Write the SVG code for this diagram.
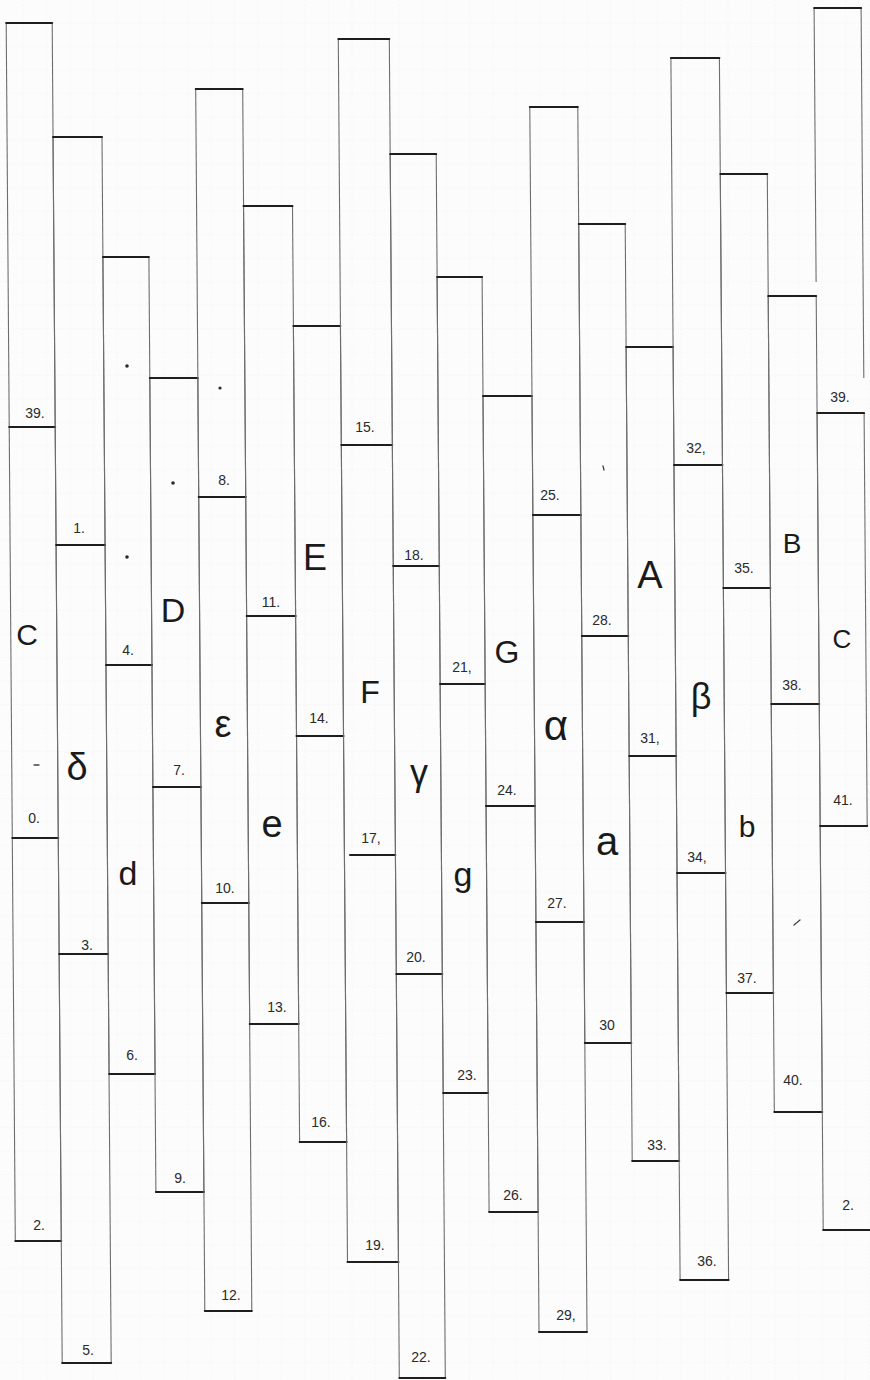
<svg xmlns="http://www.w3.org/2000/svg" width="870" height="1380" viewBox="0 0 870 1380">
<defs>
<pattern id="grid" width="23.5" height="23.5" patternUnits="userSpaceOnUse">
<path d="M23.5 0V23.5M0 23.5H23.5" fill="none" stroke="#ececec" stroke-width="0.7" stroke-dasharray="2 2"/>
</pattern>
<style>
.v{stroke:#6e6e6e;stroke-width:1.1;fill:none}
.h{stroke:#1e1e1e;stroke-width:2;stroke-linecap:round}
.n{font-family:"Liberation Sans",Arial,sans-serif;font-size:14px;fill:#2a2a2a;text-anchor:middle}
.L{font-family:"Liberation Sans",Arial,sans-serif;fill:#1a1a1a;text-anchor:middle}
.dot{fill:#2a2a2a}
.mk{stroke:#444;stroke-width:1.3;stroke-linecap:round}
</style>
</defs>
<rect width="870" height="1380" fill="#fcfcfc"/>
<rect width="870" height="1380" fill="url(#grid)"/>

<g id="connectors"></g>

<g id="col-0">
<line class="v" x1="6.2" y1="23" x2="15.3" y2="1241"/>
<line class="v" x1="52.2" y1="23" x2="61.3" y2="1241"/>
<line class="h" x1="6.2" y1="23" x2="52.2" y2="23"/>
<line class="h" x1="9.2" y1="427" x2="55.2" y2="427"/>
<line class="h" x1="12.3" y1="838" x2="58.3" y2="838"/>
<line class="h" x1="15.3" y1="1241" x2="61.3" y2="1241"/>
<text class="n" x="35" y="418">39.</text>
<text class="L" x="27" y="645" font-size="30">C</text>
<line class="mk" x1="34" y1="765" x2="39" y2="765"/>
<text class="n" x="34" y="823">0.</text>
<text class="n" x="39" y="1230">2.</text>
</g>

<g id="col-1">
<line class="v" x1="53" y1="137" x2="62.2" y2="1363"/>
<line class="v" x1="102" y1="137" x2="111.2" y2="1363"/>
<line class="h" x1="53" y1="137" x2="102" y2="137"/>
<line class="h" x1="56.1" y1="545" x2="105.1" y2="545"/>
<line class="h" x1="59.2" y1="954" x2="108.2" y2="954"/>
<line class="h" x1="62.2" y1="1363" x2="111.2" y2="1363"/>
<text class="n" x="79" y="533">1.</text>
<text class="L" x="77" y="780" font-size="38">δ</text>
<text class="n" x="87" y="950">3.</text>
<text class="n" x="88" y="1355">5.</text>
</g>

<g id="col-2">
<line class="v" x1="102.9" y1="257" x2="109.1" y2="1074"/>
<line class="v" x1="148.9" y1="257" x2="155.1" y2="1074"/>
<line class="h" x1="102.9" y1="257" x2="148.9" y2="257"/>
<line class="h" x1="106" y1="665" x2="152" y2="665"/>
<line class="h" x1="109.1" y1="1074" x2="155.1" y2="1074"/>
<circle class="dot" cx="127" cy="366" r="1.8"/>
<circle class="dot" cx="127" cy="557" r="1.8"/>
<text class="n" x="128" y="655">4.</text>
<text class="L" x="128" y="885" font-size="34">d</text>
<text class="n" x="132" y="1060">6.</text>
</g>

<g id="col-3">
<line class="v" x1="149.8" y1="378" x2="155.9" y2="1192"/>
<line class="v" x1="197.8" y1="378" x2="203.9" y2="1192"/>
<line class="h" x1="149.8" y1="378" x2="197.8" y2="378"/>
<line class="h" x1="152.9" y1="787" x2="200.9" y2="787"/>
<line class="h" x1="155.9" y1="1192" x2="203.9" y2="1192"/>
<circle class="dot" cx="173" cy="483" r="1.8"/>
<text class="L" x="173" y="622" font-size="34">D</text>
<text class="n" x="179" y="775">7.</text>
<text class="n" x="180" y="1183">9.</text>
</g>

<g id="col-4">
<line class="v" x1="195.7" y1="89" x2="204.8" y2="1311"/>
<line class="v" x1="242.7" y1="89" x2="251.8" y2="1311"/>
<line class="h" x1="195.7" y1="89" x2="242.7" y2="89"/>
<line class="h" x1="198.7" y1="497" x2="245.7" y2="497"/>
<line class="h" x1="201.8" y1="903" x2="248.8" y2="903"/>
<line class="h" x1="204.8" y1="1311" x2="251.8" y2="1311"/>
<circle class="dot" cx="220" cy="388" r="1.6"/>
<text class="n" x="224" y="485">8.</text>
<text class="L" x="223" y="737" font-size="38">ε</text>
<text class="n" x="225" y="893">10.</text>
<text class="n" x="231" y="1300">12.</text>
</g>

<g id="col-5">
<line class="v" x1="243.5" y1="206" x2="249.7" y2="1024"/>
<line class="v" x1="292.5" y1="206" x2="298.7" y2="1024"/>
<line class="h" x1="243.5" y1="206" x2="292.5" y2="206"/>
<line class="h" x1="246.6" y1="616" x2="295.6" y2="616"/>
<line class="h" x1="249.7" y1="1024" x2="298.7" y2="1024"/>
<text class="n" x="271" y="607">11.</text>
<text class="L" x="272" y="837" font-size="38">e</text>
<text class="n" x="277" y="1012">13.</text>
</g>

<g id="col-6">
<line class="v" x1="293.4" y1="326" x2="299.6" y2="1142"/>
<line class="v" x1="340.4" y1="326" x2="346.6" y2="1142"/>
<line class="h" x1="293.4" y1="326" x2="340.4" y2="326"/>
<line class="h" x1="296.5" y1="736" x2="343.5" y2="736"/>
<line class="h" x1="299.6" y1="1142" x2="346.6" y2="1142"/>
<text class="L" x="315" y="570" font-size="36">E</text>
<text class="n" x="319" y="723">14.</text>
<text class="n" x="321" y="1127">16.</text>
</g>

<g id="col-7">
<line class="v" x1="338.3" y1="39" x2="347.5" y2="1262"/>
<line class="v" x1="389.3" y1="39" x2="398.5" y2="1262"/>
<line class="h" x1="338.3" y1="39" x2="389.3" y2="39"/>
<line class="h" x1="341.3" y1="445" x2="392.3" y2="445"/>
<line class="h" x1="350" y1="855" x2="395.4" y2="855"/>
<line class="h" x1="347.5" y1="1262" x2="398.5" y2="1262"/>
<text class="n" x="365" y="432">15.</text>
<text class="L" x="370" y="703" font-size="32">F</text>
<text class="n" x="371" y="843">17,</text>
<text class="n" x="375" y="1250">19.</text>
</g>

<g id="col-8">
<line class="v" x1="390.2" y1="154" x2="399.3" y2="1378"/>
<line class="v" x1="436.2" y1="154" x2="445.3" y2="1378"/>
<line class="h" x1="390.2" y1="154" x2="436.2" y2="154"/>
<line class="h" x1="393.2" y1="566" x2="439.2" y2="566"/>
<line class="h" x1="396.3" y1="974" x2="442.3" y2="974"/>
<line class="h" x1="399.3" y1="1378" x2="445.3" y2="1378"/>
<text class="n" x="414" y="560">18.</text>
<text class="L" x="419" y="785" font-size="36">γ</text>
<text class="n" x="416" y="962">20.</text>
<text class="n" x="421" y="1362">22.</text>
</g>

<g id="col-9">
<line class="v" x1="437.1" y1="277" x2="443.2" y2="1093"/>
<line class="v" x1="482.1" y1="277" x2="488.2" y2="1093"/>
<line class="h" x1="437.1" y1="277" x2="482.1" y2="277"/>
<line class="h" x1="440.1" y1="684" x2="485.1" y2="684"/>
<line class="h" x1="443.2" y1="1093" x2="488.2" y2="1093"/>
<text class="n" x="462" y="672">21,</text>
<text class="L" x="463" y="886" font-size="34">g</text>
<text class="n" x="467" y="1080">23.</text>
</g>

<g id="col-10">
<line class="v" x1="483" y1="396" x2="489.1" y2="1212"/>
<line class="v" x1="532" y1="396" x2="538.1" y2="1212"/>
<line class="h" x1="483" y1="396" x2="532" y2="396"/>
<line class="h" x1="486" y1="806" x2="535" y2="806"/>
<line class="h" x1="489.1" y1="1212" x2="538.1" y2="1212"/>
<text class="L" x="507" y="663" font-size="32">G</text>
<text class="n" x="507" y="795">24.</text>
<text class="n" x="513" y="1200">26.</text>
</g>

<g id="col-11">
<line class="v" x1="529.8" y1="107" x2="539" y2="1332"/>
<line class="v" x1="577.8" y1="107" x2="587" y2="1332"/>
<line class="h" x1="529.8" y1="107" x2="577.8" y2="107"/>
<line class="h" x1="532.9" y1="515" x2="580.9" y2="515"/>
<line class="h" x1="535.9" y1="922" x2="583.9" y2="922"/>
<line class="h" x1="539" y1="1332" x2="587" y2="1332"/>
<text class="n" x="550" y="500">25.</text>
<text class="L" x="556" y="740" font-size="42">α</text>
<text class="n" x="557" y="908">27.</text>
<text class="n" x="566" y="1320">29,</text>
</g>

<g id="col-12">
<line class="v" x1="578.7" y1="224" x2="584.8" y2="1043"/>
<line class="v" x1="625.2" y1="224" x2="631.3" y2="1043"/>
<line class="h" x1="578.7" y1="224" x2="625.2" y2="224"/>
<line class="h" x1="581.8" y1="636" x2="628.3" y2="636"/>
<line class="h" x1="584.8" y1="1043" x2="631.3" y2="1043"/>
<line class="mk" x1="603" y1="466" x2="604" y2="470"/>
<text class="n" x="602" y="625">28.</text>
<text class="L" x="607" y="855" font-size="40">a</text>
<text class="n" x="607" y="1030">30</text>
</g>

<g id="col-13">
<line class="v" x1="626.1" y1="347" x2="632.2" y2="1161"/>
<line class="v" x1="673.1" y1="347" x2="679.2" y2="1161"/>
<line class="h" x1="626.1" y1="347" x2="673.1" y2="347"/>
<line class="h" x1="629.2" y1="756" x2="676.2" y2="756"/>
<line class="h" x1="632.2" y1="1161" x2="679.2" y2="1161"/>
<text class="L" x="650" y="588" font-size="38">A</text>
<text class="n" x="650" y="743">31,</text>
<text class="n" x="657" y="1150">33.</text>
</g>

<g id="col-14">
<line class="v" x1="670.9" y1="58" x2="680.1" y2="1280"/>
<line class="v" x1="719.4" y1="58" x2="728.6" y2="1280"/>
<line class="h" x1="670.9" y1="58" x2="719.4" y2="58"/>
<line class="h" x1="674" y1="465" x2="722.5" y2="465"/>
<line class="h" x1="677" y1="873" x2="725.5" y2="873"/>
<line class="h" x1="680.1" y1="1280" x2="728.6" y2="1280"/>
<text class="n" x="696" y="453">32,</text>
<text class="L" x="701" y="709" font-size="36">β</text>
<text class="n" x="697" y="862">34,</text>
<text class="n" x="707" y="1266">36.</text>
</g>

<g id="col-15">
<line class="v" x1="720.3" y1="174" x2="726.4" y2="993"/>
<line class="v" x1="767.3" y1="174" x2="773.4" y2="993"/>
<line class="h" x1="720.3" y1="174" x2="767.3" y2="174"/>
<line class="h" x1="723.4" y1="588" x2="770.4" y2="588"/>
<line class="h" x1="726.4" y1="993" x2="773.4" y2="993"/>
<text class="n" x="744" y="573">35.</text>
<text class="L" x="747" y="837" font-size="30">b</text>
<text class="n" x="747" y="983">37.</text>
</g>

<g id="col-16">
<line class="v" x1="768.2" y1="296" x2="774.3" y2="1112"/>
<line class="v" x1="816.2" y1="296" x2="822.3" y2="1112"/>
<line class="h" x1="768.2" y1="296" x2="816.2" y2="296"/>
<line class="h" x1="771.3" y1="704" x2="819.3" y2="704"/>
<line class="h" x1="774.3" y1="1112" x2="822.3" y2="1112"/>
<text class="L" x="792" y="553" font-size="28">B</text>
<text class="n" x="792" y="690">38.</text>
<line class="mk" x1="794" y1="925" x2="800" y2="920"/>
<text class="n" x="793" y="1085">40.</text>
</g>

<g id="col-17">
<line class="v" x1="814.1" y1="8" x2="816.1" y2="282"/>
<line class="v" x1="861.1" y1="8" x2="863.8" y2="378"/>
<line class="h" x1="814.1" y1="8" x2="861.1" y2="8"/>
<text class="n" x="840" y="402">39.</text>
<line class="v" x1="817.1" y1="413" x2="823.2" y2="1230"/>
<line class="v" x1="864.1" y1="413" x2="867.2" y2="826"/>
<line class="h" x1="817.1" y1="413" x2="864.1" y2="413"/>
<line class="h" x1="820.2" y1="826" x2="867.2" y2="826"/>
<line class="h" x1="823.2" y1="1230" x2="870" y2="1230"/>
<text class="L" x="842" y="648" font-size="26">C</text>
<text class="n" x="843" y="805">41.</text>
<text class="n" x="848" y="1210">2.</text>
</g>
</svg>
